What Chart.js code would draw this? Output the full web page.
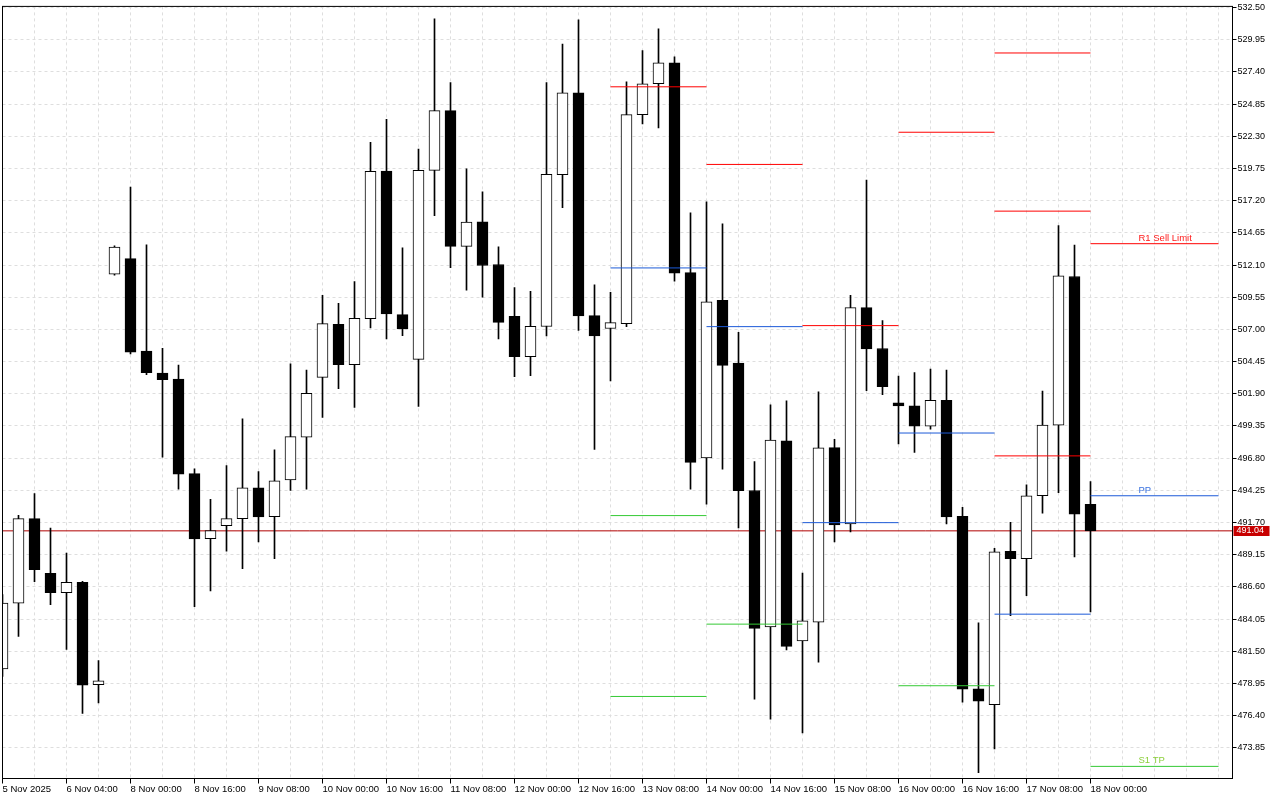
<!DOCTYPE html>
<html>
<head>
<meta charset="utf-8">
<title>Candles</title>
<script src="https://cdn.jsdelivr.net/npm/chart.js@4.4.1/dist/chart.umd.min.js"></script>
<style>
  html, body { margin: 0; padding: 0; background: #fff; }
  #wrap { width: 1280px; height: 800px; position: relative; }
</style>
</head>
<body>
<div id="wrap"><canvas id="priceChart"></canvas></div>
<script>
// time labels, one every 4 candles
const xLabels = ['5 Nov 2025', '6 Nov 04:00', '8 Nov 00:00', '8 Nov 16:00', '9 Nov 08:00', '10 Nov 00:00',
    '10 Nov 16:00', '11 Nov 08:00', '12 Nov 00:00', '12 Nov 16:00', '13 Nov 08:00', '14 Nov 00:00',
    '14 Nov 16:00', '15 Nov 08:00', '16 Nov 00:00', '16 Nov 16:00', '17 Nov 08:00', '18 Nov 00:00'];

const opens = [480.11, 485.31, 492.01, 487.68, 486.15, 486.97, 478.85, 511.37, 512.61, 505.28,
    503.54, 503.06, 495.58, 490.43, 491.46, 492.01, 494.45, 492.17, 495.08, 498.47,
    503.20, 507.41, 504.20, 507.86, 519.54, 508.17, 504.62, 519.60, 524.33, 513.58,
    515.52, 512.14, 508.04, 504.83, 507.23, 519.25, 525.75, 508.09, 507.07, 507.46,
    524.01, 526.46, 528.11, 511.50, 496.82, 509.30, 504.33, 494.24, 483.42, 498.18,
    482.31, 483.81, 497.63, 491.58, 508.72, 505.49, 501.18, 500.94, 499.34, 501.39,
    492.19, 478.53, 477.27, 489.41, 488.83, 493.82, 499.42, 511.19, 493.14];
const highs = [486.00, 492.27, 494.00, 491.25, 489.28, 487.04, 480.76, 513.63, 518.28, 513.71,
    505.51, 504.17, 495.95, 493.53, 496.21, 499.92, 495.74, 497.45, 504.28, 503.78,
    509.69, 509.06, 510.79, 521.83, 523.64, 513.47, 521.28, 531.61, 526.56, 519.73,
    517.89, 513.55, 510.32, 510.01, 526.56, 529.61, 531.53, 510.53, 509.93, 526.62,
    529.08, 530.82, 528.59, 516.23, 517.10, 515.37, 506.77, 496.53, 501.02, 501.34,
    487.70, 502.05, 498.29, 509.69, 518.84, 507.70, 503.31, 503.57, 503.86, 503.78,
    492.90, 483.76, 489.65, 491.72, 494.69, 502.12, 515.23, 513.69, 494.95];
const lows = [479.50, 482.68, 487.01, 485.20, 481.65, 476.58, 477.40, 511.29, 505.06, 503.41,
    496.87, 494.34, 485.04, 486.28, 489.43, 488.04, 490.17, 488.83, 494.24, 494.34,
    500.02, 502.31, 500.81, 507.11, 506.25, 506.51, 500.89, 516.02, 511.90, 510.11,
    509.56, 506.25, 503.25, 503.33, 506.48, 516.65, 506.91, 497.50, 502.91, 507.22,
    523.27, 522.96, 510.82, 494.34, 493.16, 495.92, 491.27, 477.71, 476.13, 481.61,
    475.03, 480.63, 490.17, 490.95, 502.15, 501.83, 497.92, 497.26, 499.10, 491.58,
    477.47, 471.88, 473.77, 484.33, 485.91, 492.45, 494.06, 488.98, 484.62];
const closes = [485.31, 492.01, 487.96, 486.15, 486.97, 478.81, 479.16, 513.53, 505.20, 503.57,
    503.01, 495.53, 490.40, 491.06, 492.01, 494.45, 492.14, 495.01, 498.50, 501.94,
    507.46, 504.20, 507.88, 519.52, 508.22, 507.03, 519.60, 524.33, 513.58, 515.50,
    512.06, 507.56, 504.83, 507.25, 519.28, 525.75, 508.06, 506.48, 507.54, 524.01,
    526.46, 528.11, 511.45, 496.47, 509.19, 504.15, 494.22, 483.31, 498.24, 481.89,
    483.91, 497.61, 491.51, 508.72, 505.46, 502.46, 500.94, 499.34, 501.39, 492.14,
    478.50, 477.55, 489.38, 488.83, 493.82, 499.42, 511.24, 492.37, 491.04];

const yTicks = [532.50, 529.95, 527.40, 524.85, 522.30, 519.75, 517.20, 514.65, 512.10, 509.55,
    507.00, 504.45, 501.90, 499.35, 496.80, 494.25, 491.70, 489.15, 486.60, 484.05,
    481.50, 478.95, 476.40, 473.85];

// daily pivot levels: start candle, end candle, price, kind
const levelFrom = [38, 38, 38, 38, 44, 44, 44, 50, 50, 56, 56, 56, 62, 62, 62, 62, 68, 68, 68];
const levelTo = [44, 44, 44, 44, 50, 50, 50, 56, 56, 62, 62, 62, 68, 68, 68, 68, 76, 76, 76];
const levelPrice = [526.22, 511.87, 492.25, 477.92, 520.07, 507.22, 483.65, 507.30, 491.69,
    522.62, 498.79, 478.77, 528.90, 516.37, 496.98, 484.44, 513.79, 493.82, 472.38];
const levelKind = ['R', 'P', 'S', 'S', 'R', 'P', 'S', 'R', 'P', 'R', 'P', 'S', 'R', 'R', 'R', 'P', 'R', 'P', 'S'];

const tagText = ['R1 Sell Limit', 'PP', 'S1 TP'];
const tagPrice = [513.79, 493.82, 472.38];
const tagKind = ['R', 'P', 'S'];

const lastPrice = 491.04;

const levelColor = { R: '#ff0000', P: '#1c5ad8', S: '#35c935' };
const tagColor = { R: '#ff1a1a', P: '#3a72e0', S: '#8ccf3a' };

const framePlugin = {
    id: 'frame',
    afterDraw(chart) {
        const { ctx, chartArea: a } = chart;
        const yScale = chart.scales.y;
        const xScale = chart.scales.x;
        ctx.save();
        // level captions
        ctx.font = '9.5px "Liberation Sans", Arial, sans-serif';
        ctx.textAlign = 'left';
        ctx.textBaseline = 'alphabetic';
        tagText.forEach((t, i) => {
            ctx.fillStyle = tagColor[tagKind[i]];
            ctx.fillText(t, xScale.getPixelForValue(71), yScale.getPixelForValue(tagPrice[i]) - 3);
        });
        // frame
        ctx.strokeStyle = '#000';
        ctx.lineWidth = 1;
        ctx.strokeRect(a.left, a.top, a.right - a.left, a.bottom - a.top);
        // last price box
        const y = yScale.getPixelForValue(lastPrice);
        ctx.fillStyle = '#c80000';
        ctx.fillRect(a.right + 1, Math.round(y) - 5, 36, 10);
        ctx.fillStyle = '#fff';
        ctx.font = '9px "Liberation Sans", Arial, sans-serif';
        ctx.textBaseline = 'middle';
        ctx.fillText(lastPrice.toFixed(2), a.right + 4, Math.round(y));
        ctx.restore();
    }
};

function createCandleChart() {
    const ctx = document.getElementById('priceChart');
    if (!ctx) return;

    const datasets = [];

    // pivot segments, on top
    levelPrice.forEach((p, i) => {
        datasets.push({
            type: 'line',
            data: [{ x: levelFrom[i], y: p }, { x: levelTo[i], y: p }],
            borderColor: levelColor[levelKind[i]],
            borderWidth: 1,
            pointRadius: 0,
            order: 0
        });
    });

    // candle bodies
    datasets.push({
        type: 'bar',
        data: opens.map((o, i) => ({ x: i, y: [Math.min(o, closes[i]), Math.max(o, closes[i])] })),
        backgroundColor: opens.map((o, i) => closes[i] >= o ? '#ffffff' : '#000000'),
        borderColor: '#000000',
        borderWidth: 1,
        borderSkipped: false,
        barThickness: 11,
        maxBarThickness: 11,
        grouped: false,
        order: 2
    });

    // wicks
    datasets.push({
        type: 'bar',
        data: highs.map((h, i) => ({ x: i, y: [lows[i], h] })),
        backgroundColor: '#000000',
        borderWidth: 0,
        barThickness: 1,
        maxBarThickness: 1,
        grouped: false,
        order: 3
    });

    // bid line, behind candles
    datasets.push({
        type: 'line',
        data: [{ x: -1, y: lastPrice }, { x: 80, y: lastPrice }],
        borderColor: '#b00000',
        borderWidth: 1,
        pointRadius: 0,
        order: 5
    });

    new Chart(ctx, {
        type: 'bar',
        data: { datasets },
        options: {
            responsive: true,
            maintainAspectRatio: false,
            animation: false,
            layout: { padding: { left: 2.5, top: 2.5, right: 0, bottom: 0 } },
            plugins: {
                legend: { display: false },
                tooltip: { enabled: false }
            },
            scales: {
                x: {
                    type: 'linear',
                    offset: false,
                    min: 0,
                    max: 76.875,
                    afterBuildTicks: (scale) => {
                        const t = [];
                        for (let v = 0; v <= 76; v += 2) t.push({ value: v });
                        scale.ticks = t;
                    },
                    afterFit: (scale) => { scale.height = 21.5; },
                    ticks: {
                        autoSkip: false,
                        maxRotation: 0,
                        minRotation: 0,
                        align: 'start',
                        padding: 0,
                        color: '#000',
                        font: { family: '"Liberation Sans", Arial, sans-serif', size: 9.5 },
                        callback: (value) => (value % 4 === 0 && xLabels[value / 4]) ? xLabels[value / 4] : ''
                    },
                    grid: {
                        offset: false,
                        color: '#dedede',
                        tickLength: 5,
                        tickWidth: 1,
                        tickBorderDash: [],
                        tickColor: (c) => (c.tick && c.tick.value % 4 === 0 && c.tick.value <= 68) ? '#000' : 'rgba(0,0,0,0)'
                    },
                    border: { display: false, dash: [3, 3] }
                },
                y: {
                    type: 'linear',
                    position: 'right',
                    min: 471.42,
                    max: 532.59,
                    afterBuildTicks: (scale) => { scale.ticks = yTicks.map(v => ({ value: v })); },
                    afterFit: (scale) => { scale.width = 47.5; },
                    ticks: {
                        padding: 1,
                        color: '#000',
                        font: { family: '"Liberation Sans", Arial, sans-serif', size: 9 },
                        callback: (value) => Number(value).toFixed(2)
                    },
                    grid: {
                        color: '#dedede',
                        tickLength: 4,
                        tickWidth: 1,
                        tickBorderDash: [],
                        tickColor: '#000'
                    },
                    border: { display: false, dash: [3, 3] }
                }
            }
        },
        plugins: [framePlugin]
    });
}

document.addEventListener('DOMContentLoaded', () => {
    createCandleChart();
});
</script>
</body>
</html>
